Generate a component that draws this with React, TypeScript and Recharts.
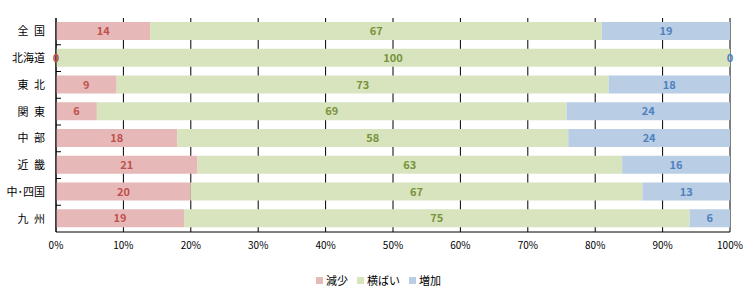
import React from "react";
import { BarChart, Bar, XAxis, YAxis, CartesianGrid, Legend, LabelList } from "recharts";

const regions = ["全\u2002国", "北海道", "東\u2002北", "関\u2002東", "中\u2002部", "近\u2002畿", "中･四国", "九\u2002州"];
const decrease = [14, 0, 9, 6, 18, 21, 20, 19];
const flat = [67, 100, 73, 69, 58, 63, 67, 75];
const increase = [19, 0, 18, 24, 24, 16, 13, 6];
const xTicks = [0, 0.1, 0.2, 0.3, 0.4, 0.5, 0.6, 0.7, 0.8, 0.9, 1];

const data = regions.map((name, i) => ({
    name,
    dec: decrease[i],
    flat: flat[i],
    inc: increase[i],
}));

const FONT = "'Noto Sans CJK JP', sans-serif";
const W = 754;
const H = 296;
const AXIS_W = 56;
const PLOT_TOP = 18;
const PLOT_BOTTOM = 232;
const BAND = (PLOT_BOTTOM - PLOT_TOP) / regions.length;

const series = [
    { key: "dec", name: "減少", fill: "#e6b9b8", text: "#c0504d" },
    { key: "flat", name: "横ばい", fill: "#d7e4bd", text: "#77933c" },
    { key: "inc", name: "増加", fill: "#b9cde5", text: "#4f81bd" },
];

// category label plus an inward tick at the band boundary
function CategoryTick({ y, payload, index }: any) {
    return (
        <g>
            {index > 0 && <line x1={AXIS_W} x2={AXIS_W + 5} y1={y - BAND / 2} y2={y - BAND / 2} stroke="#000" />}
            <text x={AXIS_W - 11} y={y} dy={4} textAnchor="end" fontSize={11} fill="#000" fontFamily={FONT}>
                {payload.value}
            </text>
        </g>
    );
}

function valueText(key: string, x: number, y: number, color: string, value: number) {
    return (
        <text key={key} x={x} y={y} dy={4} textAnchor="middle" fill={color} fontSize={11} fontWeight="bold" fontFamily={FONT}>
            {value}
        </text>
    );
}

function makeLabel(s: typeof series[number]) {
    return function ValueLabel({ x, y, width, height, value, index }: any) {
        const cy = y + height / 2;
        const out = [valueText("v", x + width / 2, cy, s.text, value)];
        // zero-width neighbours are not drawn by the bar, so label them at the flat bar's edges
        if (s.key === "flat") {
            if (decrease[index] === 0) out.push(valueText("d", x, cy, series[0].text, decrease[index]));
            if (increase[index] === 0) out.push(valueText("i", x + width, cy, series[2].text, increase[index]));
        }
        return <g>{out}</g>;
    };
}

function LegendContent() {
    return (
        <div style={{ display: "flex", justifyContent: "center", alignItems: "center", height: 28, paddingLeft: 36, fontFamily: FONT, fontSize: 11, color: "#000" }}>
            {series.map((s) => (
                <span key={s.key} style={{ display: "flex", alignItems: "center", marginRight: 9 }}>
                    <span style={{ width: 7, height: 7, background: s.fill, display: "inline-block", marginRight: 3 }} />
                    {s.name}
                </span>
            ))}
        </div>
    );
}

export default function App() {
    return (
        <div style={{ position: "absolute", left: 0, top: 0, width: W, height: H, background: "#fff" }}>
            <BarChart
                width={W}
                height={H}
                data={data}
                layout="vertical"
                stackOffset="expand"
                margin={{ top: PLOT_TOP, right: 24, bottom: 2, left: 0 }}
            >
                <CartesianGrid horizontal={false} stroke="#000" verticalValues={xTicks} />
                <XAxis
                    type="number"
                    domain={[0, 1]}
                    ticks={xTicks}
                    tickFormatter={(v) => `${Math.round(v * 100)}%`}
                    tick={{ fill: "#000", fontSize: 10, fontFamily: FONT }}
                    axisLine={{ stroke: "#000" }}
                    tickLine={false}
                    tickSize={0}
                    tickMargin={10}
                    height={34}
                />
                <XAxis
                    xAxisId="top"
                    orientation="top"
                    type="number"
                    domain={[0, 1]}
                    height={0}
                    tick={false}
                    tickLine={false}
                    axisLine={{ stroke: "#000" }}
                />
                <YAxis
                    type="category"
                    dataKey="name"
                    width={AXIS_W}
                    axisLine={{ stroke: "#000" }}
                    tickLine={false}
                    tick={<CategoryTick />}
                    interval={0}
                />
                <Legend verticalAlign="bottom" height={28} content={<LegendContent />} />
                {series.map((s) => (
                    <Bar key={s.key} dataKey={s.key} name={s.name} stackId="a" fill={s.fill} barSize={18} isAnimationActive={false}>
                        <LabelList dataKey={s.key} content={makeLabel(s)} />
                    </Bar>
                ))}
            </BarChart>
        </div>
    );
}
